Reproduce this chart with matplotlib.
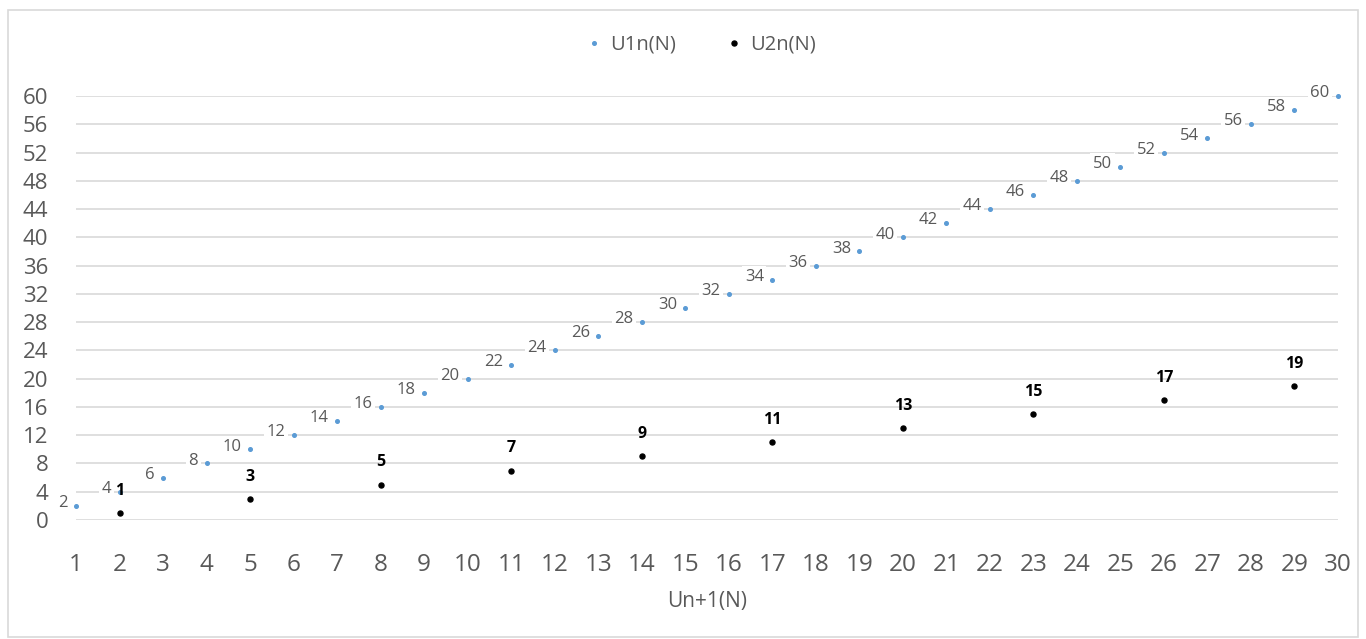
import matplotlib
matplotlib.use("Agg")
import matplotlib.pyplot as plt
import matplotlib.patches as patches

# data
n_values = list(range(1, 31))
u1_values = [2 * n for n in n_values]
u2_x = [2, 5, 8, 11, 14, 17, 20, 23, 26, 29]
u2_values = [1, 3, 5, 7, 9, 11, 13, 15, 17, 19]
y_ticks = list(range(0, 61, 4))

text_gray = '#595959'
grid_gray = '#D9D9D9'
blue = '#5B9BD5'

plt.rcParams['font.family'] = ['Open Sans', 'DejaVu Sans']

fig = plt.figure(figsize=(13.66, 6.39), dpi=100)
ax = fig.add_axes([76 / 1366, 1 - 520 / 639, (1338 - 76) / 1366, (520 - 96) / 639])

# horizontal gridlines
for y in y_ticks:
    ax.axhline(y, color=grid_gray, lw=1.2, zorder=0)

ax.plot(n_values, u1_values, ls='none', marker='o', ms=2.6, color=blue,
        label='U1n(N)', zorder=3, clip_on=False)
ax.plot(u2_x, u2_values, ls='none', marker='o', ms=3.6, color='black',
        label='U2n(N)', zorder=3, clip_on=False)

# data labels
for x, y in zip(n_values, u1_values):
    ax.annotate(str(y), (x, y), xytext=(-6, 2), textcoords='offset points',
                ha='right', va='center', fontsize=12, color=text_gray, zorder=2,
                bbox=dict(boxstyle='square,pad=0.15', fc='white', ec='none'))
for x, y in zip(u2_x, u2_values):
    ax.annotate(str(y), (x, y), xytext=(0, 16), textcoords='offset points',
                ha='center', va='center', fontsize=11.5, fontweight='bold',
                color='black', zorder=4)

ax.set_xlim(1, 30)
ax.set_ylim(0, 60)
ax.set_xticks(n_values)
ax.set_yticks(y_ticks)
ax.tick_params(axis='x', length=0, pad=24, labelsize=17.5, labelcolor=text_gray)
ax.tick_params(axis='y', length=0, pad=20, labelsize=16, labelcolor=text_gray)
for s in ax.spines.values():
    s.set_visible(False)

ax.set_xlabel('Un+1(N)', fontsize=15, color=text_gray, labelpad=10)

fig.legend(loc='center', bbox_to_anchor=(0.511, 0.93), ncol=2, frameon=False,
           fontsize=14.5, labelcolor=text_gray, handletextpad=0.1, columnspacing=2.2,
           handlelength=1.4, markerscale=1.0)

# chart border
fig.add_artist(patches.Rectangle((8 / 1366, 2 / 639), 1350 / 1366, 627 / 639,
                                 transform=fig.transFigure, fill=False,
                                 edgecolor=grid_gray, lw=1.2))

fig.savefig('out.png', dpi=100)
